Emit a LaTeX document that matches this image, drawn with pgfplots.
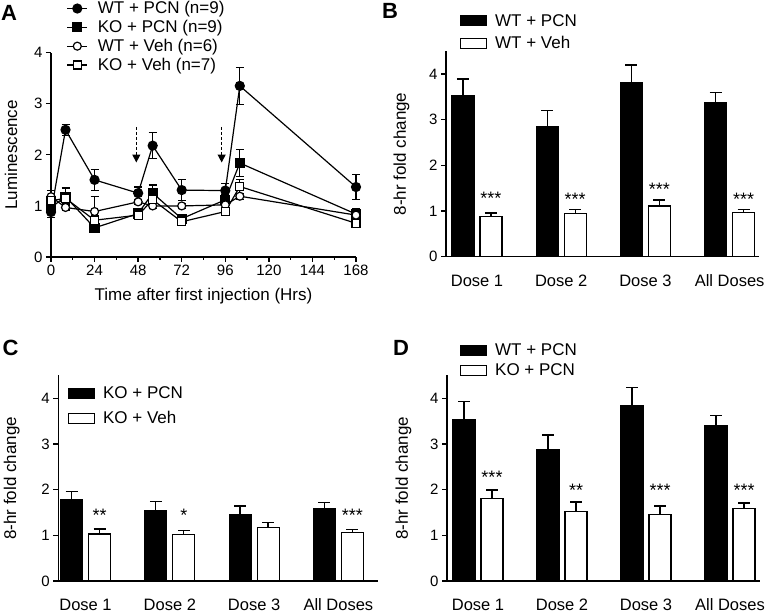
\documentclass[border=0pt]{standalone}
\usepackage{pgfplots}
\pgfplotsset{compat=1.18}
\usepackage{fontspec}
\setmainfont{Liberation Sans}
\usetikzlibrary{arrows.meta}
\newcommand{\tickfont}{\fontsize{15bp}{18bp}\selectfont}
\newcommand{\labfont}{\fontsize{17bp}{20bp}\selectfont}
\newcommand{\catfont}{\fontsize{16.5bp}{20bp}\selectfont}
\newcommand{\panelfont}{\fontsize{22bp}{24bp}\selectfont\bfseries}
\newcommand{\starfont}{\fontsize{18bp}{20bp}\selectfont}
\pgfplotsset{
  gp/.style={
    scale only axis,
    axis x line*=bottom, axis y line*=left,
    axis line style={line width=1.4bp},
    tick align=outside,
    major tick length=5bp,
    minor tick length=3bp,
    tick style={line width=1.3bp, black},
    tick label style={font=\tickfont},
    label style={font=\labfont},
    /pgf/number format/assume math mode=true,
    clip=false,
    legend cell align=left,
  },
  barax/.style={gp,
    ymin=0, ymax=4.5, ytick={0,1,2,3,4},
    xtick={0,1,2,3}, xticklabels={Dose 1,Dose 2,Dose 3,All Doses},
    xtick style={draw=none},
    xticklabel style={font=\catfont, anchor=center, yshift=-19bp},
    ybar, bar width=22bp,
    ylabel={8-hr fold change},
    every axis plot/.append style={line width=1.2bp},
    error bars/error bar style={line width=1.3bp, black},
    error bars/error mark options={rotate=90, line width=1.3bp, mark size=6bp, black},
    legend image code/.code={\draw[#1] (0bp,-5bp) rectangle (26bp,5bp);},
    legend style={draw=none, fill=none, inner sep=0pt, outer sep=0pt, anchor=north west,
      font=\labfont, row sep=9bp, column sep=8bp, nodes={inner sep=0pt}},
  },
}
\begin{document}
\begin{tikzpicture}
\path[use as bounding box] (0bp,0bp) rectangle (766bp,615bp);

% ---------------- Panel A ----------------
\begin{axis}[gp, at={(51bp,358bp)}, anchor=south west, width=305bp, height=204.3bp,
  xmin=0, xmax=168, ymin=0, ymax=4,
  xtick={0,24,...,168}, minor x tick num=1,
  ytick={0,1,2,3,4},
  xlabel={Time after first injection (Hrs)}, ylabel={Luminescence},
  xlabel style={at={(axis description cs:0.5,-0.191)}, anchor=center},
  ylabel style={at={(axis description cs:-0.131,0.5)}, anchor=center},
  every axis plot/.append style={line width=1.2bp, black},
  error bars/error bar style={line width=1.2bp},
  error bars/error mark options={rotate=90, line width=1.2bp, mark size=4bp},
  legend image code/.code={\draw[mark repeat=2,mark phase=2,#1] plot coordinates {(0bp,0bp) (10bp,0bp) (20bp,0bp)};},
  legend style={draw=none, fill=none, inner sep=0pt, outer sep=0pt, anchor=north west,
    at={(0.0515,1.25)}, font=\labfont, row sep=5bp, column sep=10bp, nodes={inner sep=0pt}},
]
\addplot[mark=*, mark size=4.5bp, mark options={fill=black, solid}, error bars/.cd, y dir=both, y explicit]
 table[y error=e] {
x y e
0 0.88 0.10
8 2.49 0.11
24 1.51 0.21
48 1.25 0.12
56 2.18 0.25
72 1.31 0.21
96 1.30 0.14
104 3.35 0.36
168 1.37 0.24
};
\addlegendentry{WT + PCN (n=9)}
\addplot[mark=square*, mark size=4.5bp, mark options={fill=black, solid}, error bars/.cd, y dir=both, y explicit]
 table[y error=e] {
x y e
0 0.97 0.10
8 1.18 0.17
24 0.57 0.05
48 0.85 0.08
56 1.25 0.16
72 0.75 0.08
96 1.12 0.10
104 1.84 0.26
168 0.84 0.10
};
\addlegendentry{KO + PCN (n=9)}
\addplot[mark=*, mark size=4bp, mark options={fill=white, solid}, error bars/.cd, y dir=both, y explicit]
 table[y error=e] {
x y e
0 1.18 0.12
8 0.97 0.05
24 0.89 0.30
48 1.08 0.05
56 1.00 0.05
72 1.00 0.05
96 1.02 0.05
104 1.19 0.06
168 0.82 0.05
};
\addlegendentry{WT + Veh (n=6)}
\addplot[mark=square*, mark size=4bp, mark options={fill=white, solid}, error bars/.cd, y dir=both, y explicit]
 table[y error=e] {
x y e
0 1.10 0.10
8 1.15 0.10
24 0.72 0.10
48 0.82 0.05
56 1.12 0.08
72 0.69 0.05
96 0.89 0.05
104 1.38 0.14
168 0.66 0.04
};
\addlegendentry{KO + Veh (n=7)}
\draw[line width=1.2bp, dash pattern=on 3bp off 2bp, -{Triangle[width=8bp,length=8bp]}] (axis cs:47,2.55) -- (axis cs:47,1.85);
\draw[line width=1.2bp, dash pattern=on 3bp off 2bp, -{Triangle[width=8bp,length=8bp]}] (axis cs:94,2.55) -- (axis cs:94,1.85);
\end{axis}

% ---------------- Panel B ----------------
\begin{axis}[barax, at={(446bp,358.3bp)}, anchor=south west, width=313bp, height=205.5bp,
  xmin=-0.368, xmax=3.349,
  ylabel style={at={(axis description cs:-0.142,0.5)}, anchor=center},
  legend style={at={(0.0447,1.18)}},
]
\addplot[fill=black, draw=black, bar shift=-14bp, error bars/.cd, y dir=plus, y explicit]
 table[y error=e] {
x y e
0 3.53 0.36
1 2.85 0.35
2 3.81 0.39
3 3.38 0.21
};
\addlegendentry{WT + PCN}
\addplot[fill=white, draw=black, bar shift=14bp, error bars/.cd, y dir=plus, y explicit]
 table[y error=e] {
x y e
0 0.88 0.08
1 0.95 0.09
2 1.11 0.13
3 0.96 0.08
};
\addlegendentry{WT + Veh}
\node[font=\starfont, yshift=-4bp] at ([xshift=14bp]axis cs:0,1.37) {***};
\node[font=\starfont, yshift=-4bp] at ([xshift=14bp]axis cs:1,1.35) {***};
\node[font=\starfont, yshift=-4bp] at ([xshift=14bp]axis cs:2,1.57) {***};
\node[font=\starfont, yshift=-4bp] at ([xshift=14bp]axis cs:3,1.35) {***};
\end{axis}

% ---------------- Panel C ----------------
\begin{axis}[barax, at={(58.3bp,34bp)}, anchor=south west, width=319.7bp, height=205.5bp,
  xmin=-0.323, xmax=3.47,
  ylabel style={at={(axis description cs:-0.146,0.5)}, anchor=center},
  legend style={at={(0.03,0.944)}, row sep=11bp},
]
\addplot[fill=black, draw=black, bar shift=-14bp, error bars/.cd, y dir=plus, y explicit]
 table[y error=e] {
x y e
0 1.79 0.17
1 1.54 0.20
2 1.46 0.18
3 1.59 0.13
};
\addlegendentry{KO + PCN}
\addplot[fill=white, draw=black, bar shift=14bp, error bars/.cd, y dir=plus, y explicit]
 table[y error=e] {
x y e
0 1.03 0.11
1 1.01 0.09
2 1.17 0.11
3 1.06 0.07
};
\addlegendentry{KO + Veh}
\node[font=\starfont, yshift=-4bp] at ([xshift=14bp]axis cs:0,1.52) {**};
\node[font=\starfont, yshift=-4bp] at ([xshift=14bp]axis cs:1,1.52) {*};
\node[font=\starfont, yshift=-4bp] at ([xshift=14bp]axis cs:3,1.52) {***};
\end{axis}

% ---------------- Panel D ----------------
\begin{axis}[barax, at={(447bp,34bp)}, anchor=south west, width=313bp, height=205.5bp,
  xmin=-0.369, xmax=3.357,
  ylabel style={at={(axis description cs:-0.139,0.5)}, anchor=center},
  legend style={at={(0.0415,1.153)}, row sep=6bp},
]
\addplot[fill=black, draw=black, bar shift=-14bp, error bars/.cd, y dir=plus, y explicit]
 table[y error=e] {
x y e
0 3.53 0.40
1 2.87 0.33
2 3.84 0.39
3 3.40 0.22
};
\addlegendentry{WT + PCN}
\addplot[fill=white, draw=black, bar shift=14bp, error bars/.cd, y dir=plus, y explicit]
 table[y error=e] {
x y e
0 1.80 0.19
1 1.53 0.20
2 1.45 0.19
3 1.59 0.12
};
\addlegendentry{KO + PCN}
\node[font=\starfont, yshift=-4bp] at ([xshift=14bp]axis cs:0,2.36) {***};
\node[font=\starfont, yshift=-4bp] at ([xshift=14bp]axis cs:1,2.07) {**};
\node[font=\starfont, yshift=-4bp] at ([xshift=14bp]axis cs:2,2.07) {***};
\node[font=\starfont, yshift=-4bp] at ([xshift=14bp]axis cs:3,2.07) {***};
\end{axis}

% panel letters
\node[font=\panelfont] at (9bp,602.5bp) {A};
\node[font=\panelfont] at (390bp,604bp) {B};
\node[font=\panelfont] at (10.5bp,267bp) {C};
\node[font=\panelfont] at (401bp,267bp) {D};
\end{tikzpicture}
\end{document}
